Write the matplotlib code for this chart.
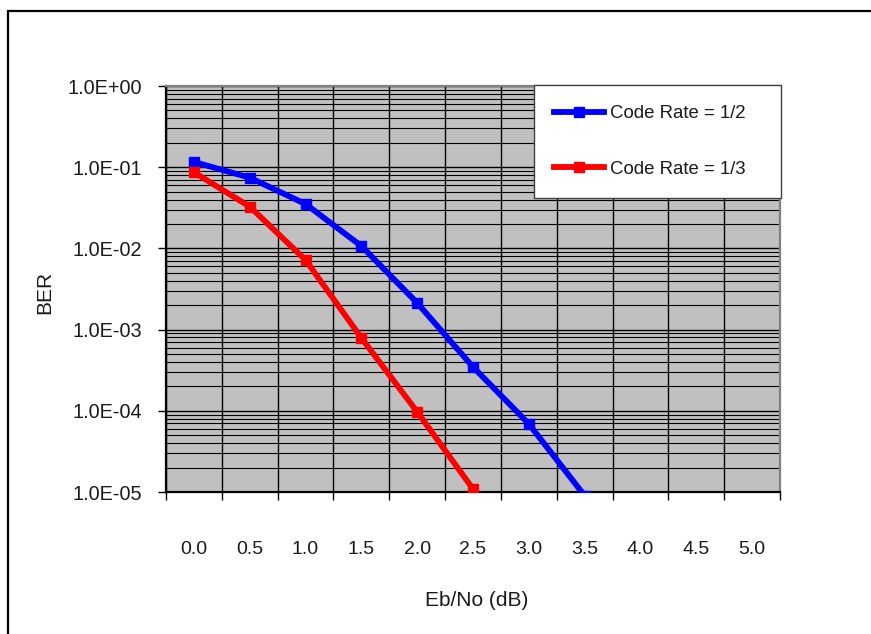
import matplotlib
matplotlib.use("Agg")
import matplotlib.pyplot as plt
from matplotlib.patches import Rectangle
from matplotlib.ticker import FixedLocator, LogLocator, NullFormatter
import numpy as np

plt.rcParams['font.family'] = ['Liberation Sans', 'DejaVu Sans']

# ---- data ----
x_labels = ['0.0', '0.5', '1.0', '1.5', '2.0', '2.5', '3.0', '3.5', '4.0', '4.5', '5.0']
ber_rate_half = [0.116, 0.0743, 0.0352, 0.0107, 0.00213, 3.47e-4, 6.9e-5, 9.0e-6]
ber_rate_third = [0.0865, 0.0327, 0.0072, 7.9e-4, 9.7e-5, 1.09e-5, 1.0e-6]
y_tick_vals = [1e0, 1e-1, 1e-2, 1e-3, 1e-4, 1e-5]
y_tick_labels = ['1.0E+00', '1.0E-01', '1.0E-02', '1.0E-03', '1.0E-04', '1.0E-05']
series_labels = ['Code Rate = 1/2', 'Code Rate = 1/3']

W, H = 871, 634
fig = plt.figure(figsize=(W / 100, H / 100), dpi=100)
fig.patch.set_facecolor('white')

# outer chart frame (cropped at right/bottom)
fig.patches.append(Rectangle((8 / W, -0.05), 1.2, 1 - 11 / H + 0.05,
                             transform=fig.transFigure, fill=False,
                             edgecolor='black', linewidth=1.6, zorder=0))

left, right, top, bottom = 166, 780, 86, 492
ax = fig.add_axes([left / W, 1 - bottom / H, (right - left) / W, (bottom - top) / H])
ax.set_facecolor('#C0C0C0')
ax.set_yscale('log')
ax.set_ylim(1e-5, 1e0)
n = len(x_labels)
ax.set_xlim(-0.5, n - 0.5)

def fx(px):
    return (px - left) / (right - left)

def fy(py):
    return (bottom - py) / (bottom - top)

txt_color = '#1a1a1a'

# gridlines
ax.yaxis.set_minor_locator(LogLocator(base=10, subs=np.arange(2, 10), numticks=20))
ax.yaxis.set_minor_formatter(NullFormatter())
ax.set_yticks(y_tick_vals)
ax.set_yticklabels(y_tick_labels)
ax.grid(True, which='major', axis='y', color='black', linewidth=1.0)
ax.grid(True, which='minor', axis='y', color='black', linewidth=0.8)
ax.tick_params(axis='y', which='minor', length=0)
ax.tick_params(axis='y', which='major', length=6, width=1, direction='out',
               pad=11, labelsize=14.3, labelcolor=txt_color)

# x axis: ticks at category boundaries, labels at centers
xpos = np.arange(n)
ax.xaxis.set_major_locator(FixedLocator(np.arange(n + 1) - 0.5))
ax.xaxis.set_major_formatter(NullFormatter())
ax.xaxis.set_minor_locator(FixedLocator(xpos))
ax.set_xticklabels(x_labels, minor=True)
ax.tick_params(axis='x', which='major', length=6, width=1, direction='out')
ax.tick_params(axis='x', which='minor', length=0, pad=35, labelsize=14,
               labelcolor=txt_color)
ax.grid(True, which='major', axis='x', color='black', linewidth=1.0)
ax.set_axisbelow(True)

for side in ['top', 'right']:
    ax.spines[side].set_color('#808080')
    ax.spines[side].set_linewidth(1.6)
for side in ['left', 'bottom']:
    ax.spines[side].set_color('black')
    ax.spines[side].set_linewidth(1.6)

l1, = ax.plot(xpos[:len(ber_rate_half)], ber_rate_half, color='#0000FF', lw=4.2,
              marker='s', markersize=7.5, label=series_labels[0], zorder=5)
l2, = ax.plot(xpos[:len(ber_rate_third)], ber_rate_third, color='#FF0000', lw=4.2,
              marker='s', markersize=7.5, label=series_labels[1], zorder=5)

ax.set_ylabel('BER', fontsize=15, labelpad=0, color=txt_color)
ax.yaxis.set_label_coords(fx(54), fy(292))
ax.set_xlabel('Eb/No (dB)', fontsize=15, color=txt_color)
ax.xaxis.set_label_coords(fx(477), fy(591))

leg = ax.legend(handles=[l1, l2], loc='upper left',
                bbox_to_anchor=(fx(534), fy(200), fx(781) - fx(534), fy(85) - fy(200)),
                mode='expand', borderaxespad=0, fontsize=13.4, handlelength=2.65,
                handletextpad=0.35, labelspacing=2.06, borderpad=1.1, fancybox=False,
                framealpha=1, edgecolor='#404040', numpoints=1)
leg.get_frame().set_linewidth(1.0)
for t in leg.get_texts():
    t.set_color(txt_color)
leg.set_zorder(10)

fig.savefig('out.png', dpi=100, facecolor='white')
